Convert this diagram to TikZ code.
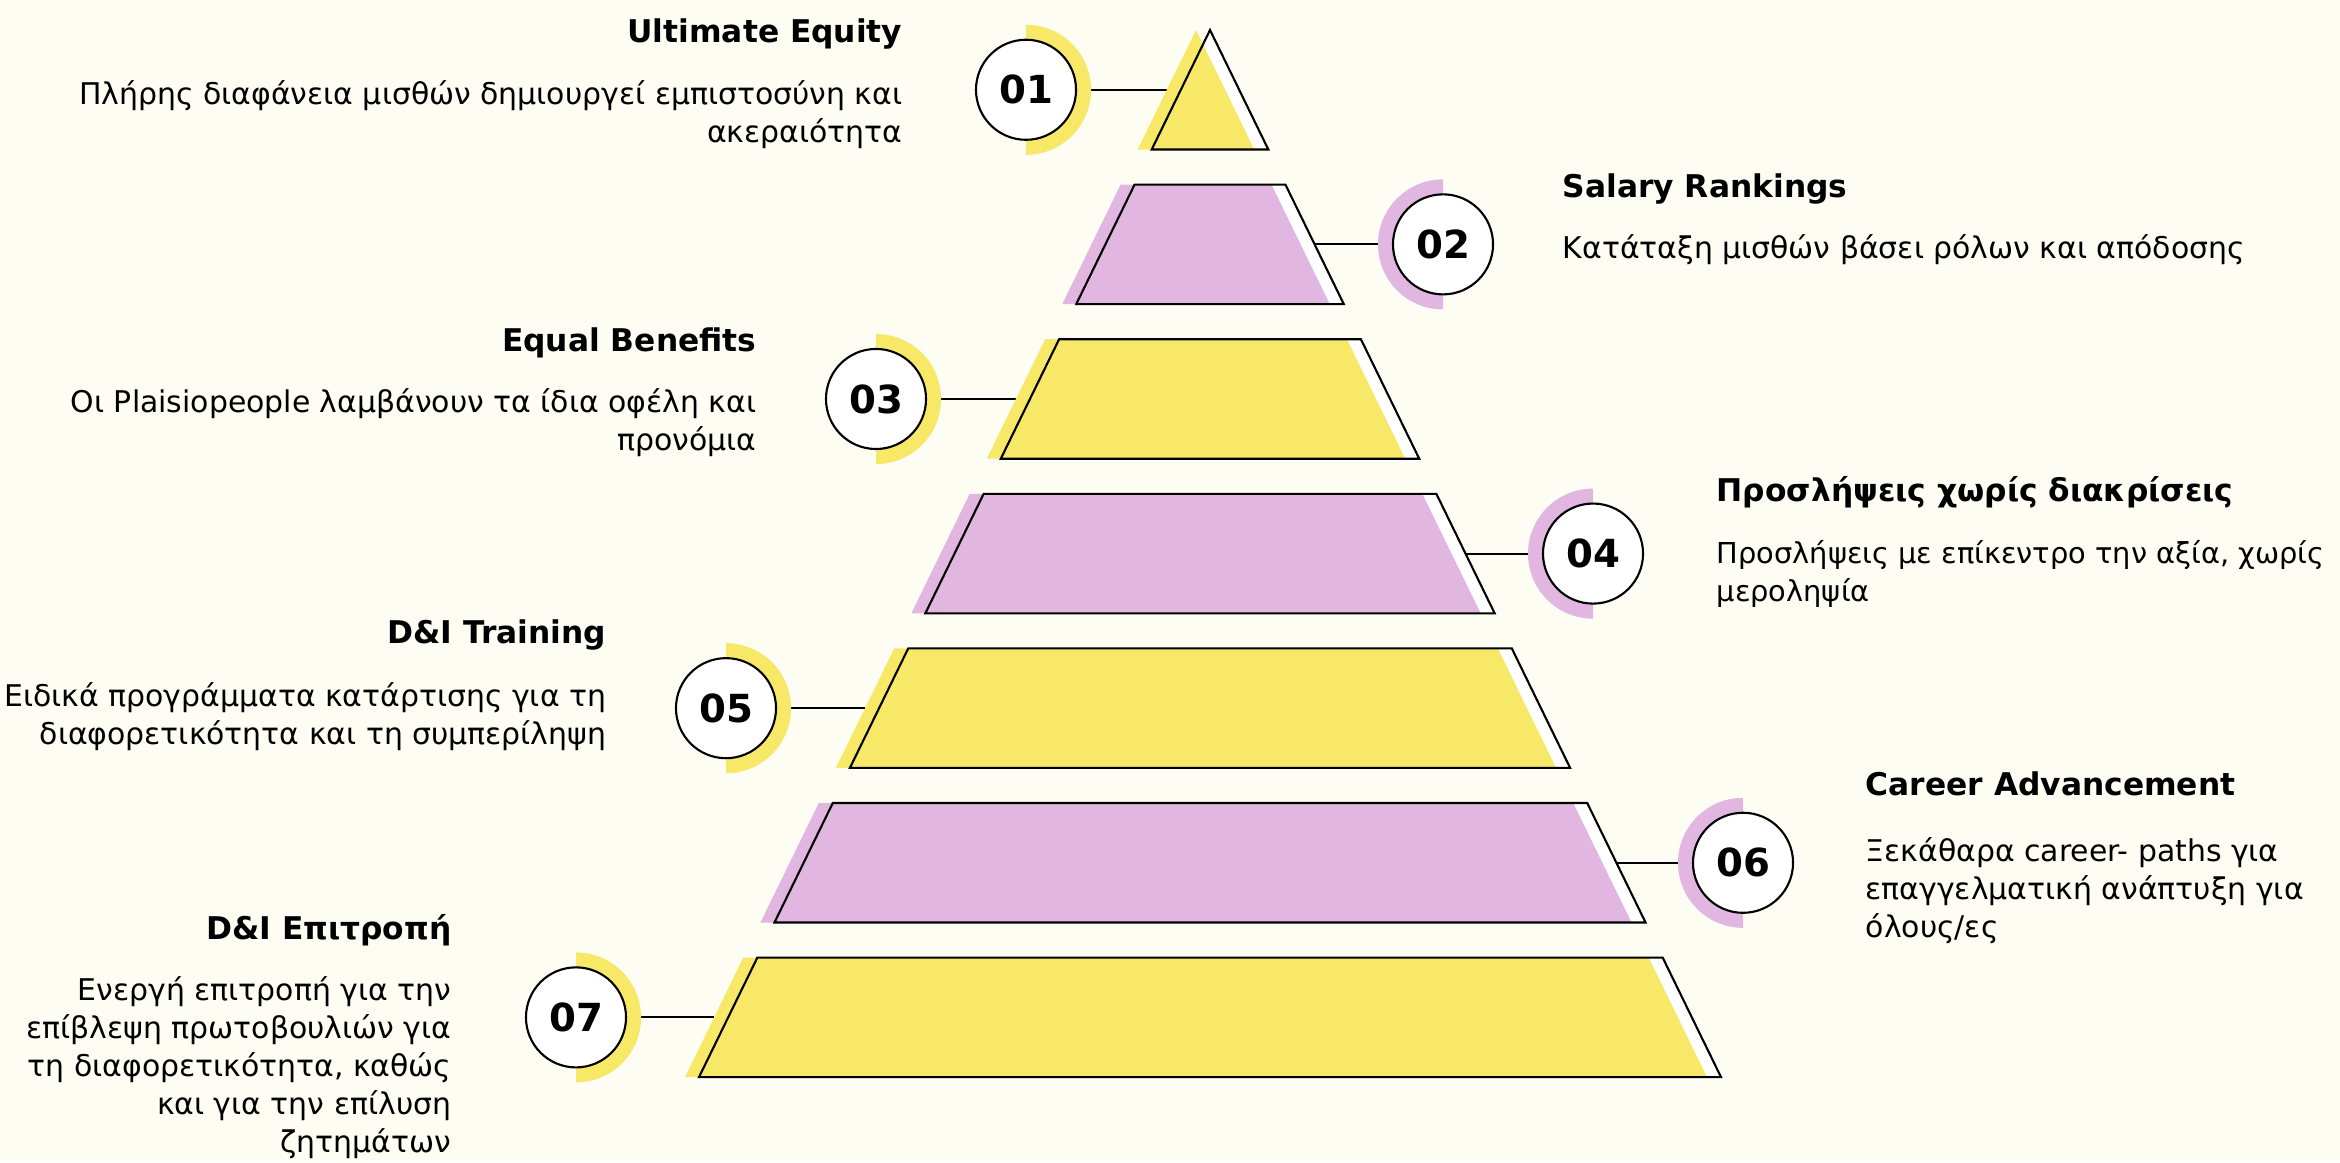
\documentclass[tikz,border=0pt]{standalone}
\usepackage{fontspec}
\setmainfont{DejaVu Sans}
\definecolor{tierYellow}{HTML}{F7E967}
\definecolor{tierPink}{HTML}{E1B7E1}
\definecolor{paper}{HTML}{FDFDF4}
\pgfdeclarelayer{back}
\pgfsetlayers{back,main}
\tikzset{
  tier/.style={draw=black,line width=0.6pt,line join=miter},
  badge/.style={circle,draw=black,line width=0.6pt,fill=white,minimum size=1cm,inner sep=0pt,font=\fontsize{11}{13}\selectfont\bfseries},
  link/.style={draw=black,line width=0.6pt},
  heading/.style={inner sep=0pt,font=\fontsize{8.9}{11}\selectfont\bfseries},
  body/.style={inner sep=0pt,font=\fontsize{8.5}{10.8}\selectfont}
}
\begin{document}
\begin{tikzpicture}[x=0.01cm,y=-0.01cm]
  \begin{pgfonlayer}{back}
    \fill[paper] (0,0) rectangle (2340,1162);
  \end{pgfonlayer}
  \useasboundingbox (0,0) rectangle (2340,1162);
  % pyramid tiers, shadow shifted left
  \foreach \i/\col in {1/tierYellow,2/tierPink,3/tierYellow,4/tierPink,5/tierYellow,6/tierPink,7/tierYellow}{
    \pgfmathsetmacro\t{30+(\i-1)*154.6}
    \pgfmathsetmacro\b{\t+119.5}
    \pgfmathsetmacro\m{(\t+\b)/2}
    \pgfmathsetmacro\wt{0.488*(\t-30)}
    \pgfmathsetmacro\wb{0.488*(\b-30)}
    \pgfmathsetmacro\wm{0.488*(\m-30)}
    \fill[white] ({1210-\wt},\t) -- ({1210+\wt},\t) -- ({1210+\wb},\b) -- ({1210-\wb},\b) -- cycle;
    \fill[\col] ({1196-\wt},\t) -- ({1196+\wt},\t) -- ({1196+\wb},\b) -- ({1196-\wb},\b) -- cycle;
    \draw[tier] ({1210-\wt},\t) -- ({1210+\wt},\t) -- ({1210+\wb},\b) -- ({1210-\wb},\b) -- cycle;
    \ifodd\i\relax
      \coordinate (e\i) at ({1196-\wm},\m);
    \else
      \coordinate (e\i) at ({1210+\wm},\m);
    \fi
  }
  % numbered badges with half rings
  \foreach \i/\x/\col/\a in {1/1026/tierYellow/-90,2/1443/tierPink/270,3/876/tierYellow/-90,4/1593/tierPink/270,5/726/tierYellow/-90,6/1743/tierPink/270,7/576/tierYellow/-90}{
    \pgfmathsetmacro\y{89.75+(\i-1)*154.6}
    \fill[\col] (\x,\y) -- ++(0,-65) arc[start angle=90,end angle=\a,radius=0.65cm] -- cycle;
    \node[badge] (c\i) at (\x,\y) {0\i};
    \begin{pgfonlayer}{back}
      \draw[link] (c\i) -- (e\i);
    \end{pgfonlayer}
  }
  % texts (base = last line)
  \node[heading,anchor=base east] (h1) at (903,42) {Ultimate Equity};
  \node[body,anchor=base east,align=right] (d1) at (903,142) {Πλήρης διαφάνεια μισθών δημιουργεί εμπιστοσύνη και\\ακεραιότητα};
  \node[heading,anchor=base west] (h2) at (1562,197) {Salary Rankings};
  \node[body,anchor=base west,align=left] (d2) at (1562,258) {Κατάταξη μισθών βάσει ρόλων και απόδοσης};
  \node[heading,anchor=base east] (h3) at (757,351) {Equal Benefits};
  \node[body,anchor=base east,align=right] (d3) at (757,450) {Οι Plaisiopeople λαμβάνουν τα ίδια οφέλη και\\προνόμια};
  \node[heading,anchor=base west] (h4) at (1716,501) {Προσλήψεις χωρίς διακρίσεις};
  \node[body,anchor=base west,align=left,font=\fontsize{8.2}{10.8}\selectfont] (d4) at (1716,601) {Προσλήψεις με επίκεντρο την αξία, χωρίς\\μεροληψία};
  \node[heading,anchor=base east] (h5) at (607,643) {D\&I Training};
  \node[body,anchor=base east,align=right] (d5) at (607,744) {Ειδικά προγράμματα κατάρτισης για τη\\διαφορετικότητα και τη συμπερίληψη};
  \node[heading,anchor=base west] (h6) at (1865,795) {Career Advancement};
  \node[body,anchor=base west,align=left] (d6) at (1865,937) {Ξεκάθαρα career- paths για\\επαγγελματική ανάπτυξη για\\όλους/ες};
  \node[heading,anchor=base east] (h7) at (452,939) {D\&I Επιτροπή};
  \node[body,anchor=base east,align=right] (d7) at (452,1152) {Ενεργή επιτροπή για την\\επίβλεψη πρωτοβουλιών για\\τη διαφορετικότητα, καθώς\\και για την επίλυση\\ζητημάτων};
\end{tikzpicture}
\end{document}
